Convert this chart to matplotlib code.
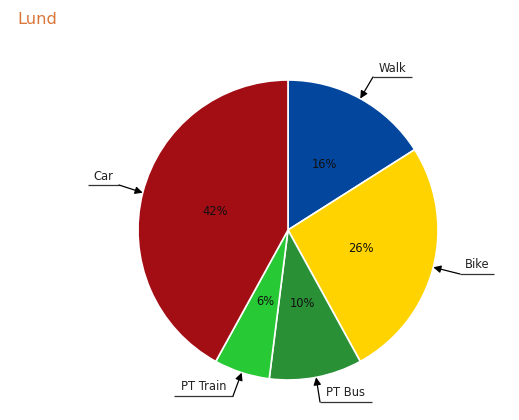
import numpy as np
import matplotlib
matplotlib.use("Agg")
import matplotlib.pyplot as plt

# ---- data ----
categories = ["Walk", "Bike", "PT Bus", "PT Train", "Car"]
shares = [16, 26, 10, 6, 42]
colors = ["#02469d", "#ffd300", "#2a9036", "#27c934", "#a30d14"]
title = "Lund"

# ---- layout (pixel coordinates, y measured from top) ----
W, H = 519, 420
center_px = (288, 230)
radius_px = 150
# elbow point of leader line and far end of underline
label_layout = {
    "Walk":     ((373, 77), 412),
    "Bike":     ((460, 274), 494),
    "PT Bus":   ((320, 402), 372),
    "PT Train": ((233, 396), 174),
    "Car":      ((119, 185), 88),
}

fig = plt.figure(figsize=(W / 100, H / 100), dpi=100)
ax = fig.add_axes([0, 0, 1, 1])
ax.set_xlim(0, W)
ax.set_ylim(0, H)
ax.set_aspect("equal")
ax.axis("off")

cx, cy = center_px[0], H - center_px[1]
wedges, texts, autotexts = ax.pie(
    shares, colors=colors, startangle=90, counterclock=False,
    center=(cx, cy), radius=radius_px, frame=True,
    autopct=lambda p: f"{p:.0f}%", pctdistance=0.5,
    wedgeprops=dict(edgecolor="white", linewidth=1.2),
    textprops=dict(fontsize=8.3, color="#111111", family="DejaVu Sans"),
)
ax.set_xlim(0, W)
ax.set_ylim(0, H)
ax.axis("off")

for w, name in zip(wedges, categories):
    mid = np.deg2rad((w.theta1 + w.theta2) / 2)
    tip = (cx + radius_px * np.cos(mid), cy + radius_px * np.sin(mid))
    (ex, ey), uend = label_layout[name]
    ey = H - ey
    ax.plot([ex, uend], [ey, ey], color="#333333", lw=0.9, solid_capstyle="butt")
    ax.annotate("", xy=tip, xytext=(ex, ey),
                arrowprops=dict(arrowstyle="-|>", color="black", lw=0.9,
                                mutation_scale=11, shrinkA=0, shrinkB=0))
    ax.text((ex + uend) / 2, ey + 2.5, name, ha="center", va="bottom",
            fontsize=8.3, color="#222222", family="DejaVu Sans")

fig.text(17 / W, 1 - 19 / H, title, ha="left", va="center",
         fontsize=11.7, color="#d9773a", family="DejaVu Sans")

fig.savefig("out.png", dpi=100, facecolor="white")
